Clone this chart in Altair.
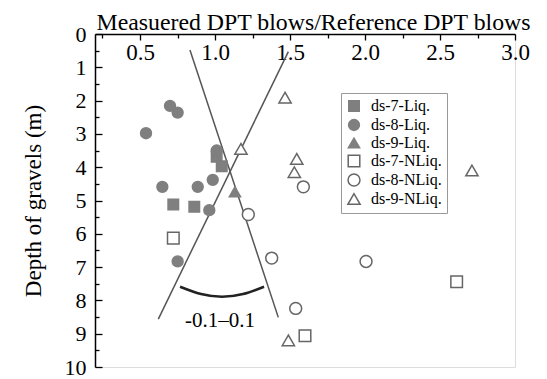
import altair as alt
import pandas as pd

FONT = "Liberation Serif"

# ---- data (ratio, depth in m) ----
series_names = ["ds-7-Liq.", "ds-8-Liq.", "ds-9-Liq.", "ds-7-NLiq.", "ds-8-NLiq.", "ds-9-NLiq."]

ds7_liq_x = [1.011, 1.045, 0.722, 0.862]
ds7_liq_y = [3.69, 3.97, 5.12, 5.19]
ds8_liq_x = [0.700, 0.751, 0.540, 0.649, 0.885, 0.985, 0.962, 1.011, 0.751]
ds8_liq_y = [2.16, 2.36, 2.98, 4.59, 4.59, 4.38, 5.29, 3.50, 6.83]
ds9_liq_x = [1.133]
ds9_liq_y = [4.74]
ds7_nliq_x = [2.611, 1.600, 0.722]
ds7_nliq_y = [7.44, 9.06, 6.13]
ds8_nliq_x = [1.222, 1.589, 1.378, 2.007, 1.538]
ds8_nliq_y = [5.42, 4.59, 6.73, 6.83, 8.24]
ds9_nliq_x = [1.467, 1.173, 1.545, 1.529, 1.489, 2.713]
ds9_nliq_y = [1.91, 3.45, 3.75, 4.15, 9.20, 4.10]

# two guide lines and the arc between them
lineA_x = [0.833, 1.422]
lineA_y = [0.48, 8.51]
lineB_x = [0.622, 1.489]
lineB_y = [8.56, 0.53]
arc_x = [0.767, 0.907, 1.047, 1.187, 1.327]
arc_y = [7.59, 7.81, 7.89, 7.81, 7.59]
note_text = ["-0.1\u20130.1"]
note_x = [1.033]
note_y = [8.62]

x_ticks = [0.25, 0.5, 0.75, 1.0, 1.25, 1.5, 1.75, 2.0, 2.25, 2.5, 2.75, 3.0]
y_ticks = [i * 0.5 for i in range(21)]

shapes = ["square", "circle", "triangle-up", "square", "circle", "triangle-up"]
fills = ["#7f7f7f", "#7f7f7f", "#7f7f7f", "white", "white", "white"]
strokes = ["#7f7f7f", "#7f7f7f", "#7f7f7f", "#666666", "#666666", "#666666"]
sizes = [110, 150, 170, 110, 140, 200]

# ---- build tables ----
rows = []
for name, xs, ys in zip(series_names,
                        [ds7_liq_x, ds8_liq_x, ds9_liq_x, ds7_nliq_x, ds8_nliq_x, ds9_nliq_x],
                        [ds7_liq_y, ds8_liq_y, ds9_liq_y, ds7_nliq_y, ds8_nliq_y, ds9_nliq_y]):
    for xv, yv in zip(xs, ys):
        rows.append({"series": name, "ratio": xv, "depth": yv})
pts = pd.DataFrame(rows)

lrows = []
for g, xs, ys in [("A", lineA_x, lineA_y), ("B", lineB_x, lineB_y)]:
    for i, (xv, yv) in enumerate(zip(xs, ys)):
        lrows.append({"g": g, "i": i, "ratio": xv, "depth": yv})
lines = pd.DataFrame(lrows)
arc = pd.DataFrame({"i": list(range(len(arc_x))), "ratio": arc_x, "depth": arc_y})
note = pd.DataFrame({"t": note_text, "ratio": note_x, "depth": note_y})

W, H = 420, 333
xscale = alt.Scale(domain=[0.2, 3.0], nice=False, zero=False)
yscale = alt.Scale(domain=[0, 10], reverse=True, nice=False, zero=False)

xaxis = alt.Axis(
    orient="bottom", offset=-H, values=x_ticks,
    labelExpr="datum.value * 2 % 1 == 0 ? format(datum.value, '.1f') : ''",
    tickSize={"condition": {"test": "datum.value * 2 % 1 == 0", "value": 6}, "value": 4},
    labelFont=FONT, labelFontSize=23, labelColor="black", labelPadding=1,
    domainColor="black", domainWidth=1.5, tickColor="black", tickWidth=1.3,
    grid=False, title="Measuered DPT blows/Reference DPT blows",
    titleFont=FONT, titleFontSize=23.8, titleFontWeight="normal", titleColor="black",
    titleX=218, titleAlign="center", titleY=-5, titleBaseline="alphabetic",
    labelFlush=False, labelOverlap=False,
)
yaxis = alt.Axis(
    orient="right", offset=-W, values=y_ticks,
    labelExpr="datum.value % 1 == 0 ? format(datum.value, 'd') : ''",
    tickSize={"condition": {"test": "datum.value % 1 == 0", "value": 7}, "value": 4},
    labelAlign="right", labelPadding=-16,
    labelFont=FONT, labelFontSize=22, labelColor="black",
    domainColor="black", domainWidth=1.5, tickColor="black", tickWidth=1.3,
    grid=False, title="Depth of gravels (m)",
    titleFont=FONT, titleFontSize=23, titleFontWeight="normal", titleColor="black",
    titleAngle=270, titleX=-62, titleY=H / 2, titleAlign="center", titleBaseline="middle",
    labelFlush=False, labelOverlap=False,
)

X = alt.X("ratio:Q", scale=xscale, axis=xaxis)
Y = alt.Y("depth:Q", scale=yscale, axis=yaxis)

legend = alt.Legend(orient="none", legendX=246, legendY=59, title=None,
                    strokeColor="#999999", fillColor="white", padding=5,
                    labelFont=FONT, labelFontSize=16, labelColor="black", labelOffset=9,
                    rowPadding=1, symbolStrokeWidth=1.5, symbolSize=110)

points = alt.Chart(pts).mark_point(filled=True, strokeWidth=1.5, opacity=1).encode(
    x=X, y=Y,
    shape=alt.Shape("series:N", scale=alt.Scale(domain=series_names, range=shapes), legend=legend),
    fill=alt.Fill("series:N", scale=alt.Scale(domain=series_names, range=fills), legend=legend),
    stroke=alt.Stroke("series:N", scale=alt.Scale(domain=series_names, range=strokes), legend=legend),
    size=alt.Size("series:N", scale=alt.Scale(domain=series_names, range=sizes), legend=legend),
)

guide = alt.Chart(lines).mark_line(color="#555555", strokeWidth=1.5).encode(
    x=X, y=Y, detail="g:N", order="i:Q",
)
arcline = alt.Chart(arc).mark_line(color="#222222", strokeWidth=2.5, interpolate="natural").encode(
    x=X, y=Y, order="i:Q",
)
label = alt.Chart(note).mark_text(font=FONT, fontSize=21, color="black").encode(
    x=X, y=Y, text="t:N",
)

chart = alt.layer(guide, arcline, label, points).properties(
    width=W, height=H,
    autosize=alt.AutoSizeParams(type="none"),
    padding={"left": 87, "top": 26, "right": 24, "bottom": 20},
).configure_view(stroke=None).configure(background="white")

chart.save("out.html", embed_options={"renderer": "svg", "actions": False})
